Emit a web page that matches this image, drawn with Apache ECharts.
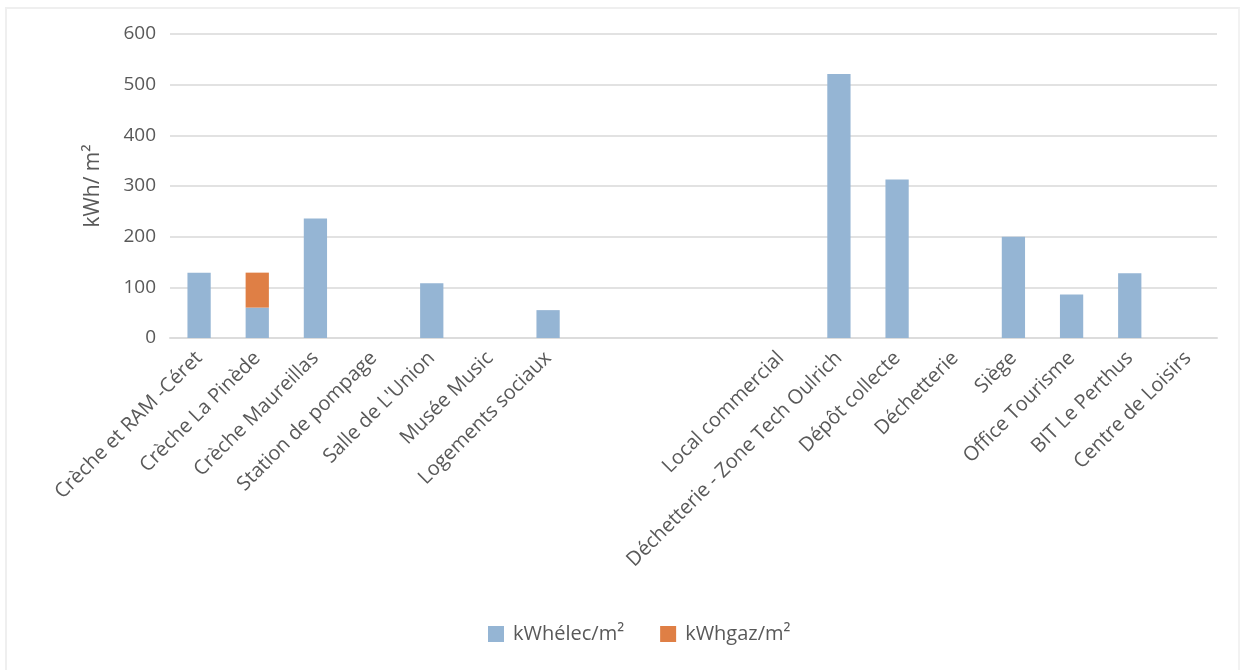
<!DOCTYPE html>
<html>
<head>
<meta charset="utf-8">
<script src="https://cdn.jsdelivr.net/npm/echarts@6/dist/echarts.min.js"></script>
<style>
  html, body { margin: 0; padding: 0; background: #ffffff; }
  #frame {
    position: absolute; left: 5px; top: 7px; width: 1235px; height: 670px;
    border-left: 2px solid #efefef; border-top: 2px solid #efefef; border-right: 2px solid #f2f2f2;
    box-sizing: border-box;
  }
  #chart { position: absolute; left: 0; top: 0; width: 1242px; height: 670px; }
</style>
</head>
<body>
<div id="frame"></div>
<div id="chart"></div>
<script>
// Sites (blank entries keep the gap between the two groups of buildings)
const sites = [
  'Crèche et RAM -Céret', 'Crèche La Pinède', 'Crèche Maureillas', 'Station de pompage',
  "Salle de L'Union", 'Musée Music', 'Logements sociaux', '', '', '',
  'Local commercial', 'Déchetterie - Zone Tech Oulrich', 'Dépôt collecte', 'Déchetterie',
  'Siège', 'Office Tourisme', 'BIT Le Perthus', 'Centre de Loisirs'
];
// Electricity consumption per m² (kWh/m²)
const elecPerM2 = [129, 60, 236, null, 108, null, 55, null, null, null,
  null, 521, 313, null, 200, 86, 128, null];
// Gas consumption per m² (kWh/m²)
const gazPerM2 = [null, 69, null, null, null, null, null, null, null, null,
  null, null, null, null, null, null, null, null];
const yTicks = [0, 100, 200, 300, 400, 500, 600];

const textColor = '#595959';
const fontFamily = '"Open Sans", "Noto Sans", sans-serif';

const chart = echarts.init(document.getElementById('chart'), null, { renderer: 'canvas' });
chart.setOption({
  animation: false,
  textStyle: { fontFamily: fontFamily },
  grid: { left: 170, right: 25, top: 34, bottom: 332, containLabel: false },
  legend: {
    bottom: 21,
    left: 483,
    itemWidth: 16,
    itemHeight: 16,
    itemGap: 36,
    icon: 'rect',
    textStyle: { color: textColor, fontSize: 20, fontFamily: fontFamily, padding: [0, 0, 0, 4] },
    data: ['kWhélec/m²', 'kWhgaz/m²']
  },
  xAxis: {
    type: 'category',
    data: sites,
    axisLine: { lineStyle: { color: '#dcdcdc', width: 2 } },
    axisTick: { show: false },
    axisLabel: {
      interval: 0,
      rotate: 45,
      margin: 17,
      color: textColor,
      fontSize: 20,
      fontFamily: fontFamily
    }
  },
  yAxis: {
    type: 'value',
    min: yTicks[0],
    max: yTicks[yTicks.length - 1],
    interval: yTicks[1] - yTicks[0],
    name: 'kWh/ m²',
    nameLocation: 'middle',
    nameRotate: 90,
    nameGap: 66,
    nameTextStyle: { color: textColor, fontSize: 21, fontFamily: fontFamily },
    axisLine: { show: false },
    axisTick: { show: false },
    axisLabel: { color: textColor, fontSize: 19, margin: 14, fontFamily: fontFamily },
    splitLine: { lineStyle: { color: '#e2e2e2', width: 2 } }
  },
  series: [
    {
      name: 'kWhélec/m²',
      type: 'bar',
      stack: 'conso',
      barCategoryGap: '60%',
      itemStyle: { color: '#95b5d4' },
      data: elecPerM2
    },
    {
      name: 'kWhgaz/m²',
      type: 'bar',
      stack: 'conso',
      barCategoryGap: '60%',
      itemStyle: { color: '#df7f45' },
      data: gazPerM2
    }
  ]
});
</script>
</body>
</html>
